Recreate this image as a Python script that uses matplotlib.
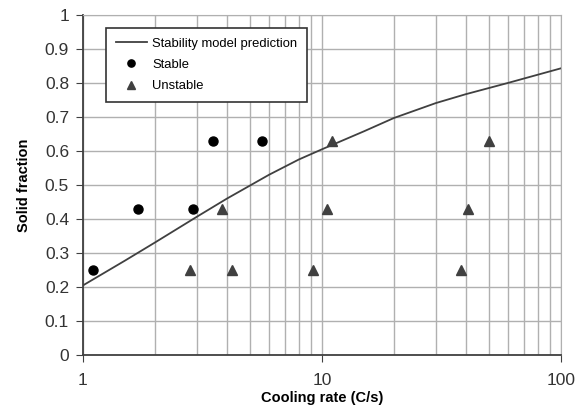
import matplotlib
matplotlib.use("Agg")
import matplotlib.pyplot as plt
from matplotlib.ticker import FixedLocator, NullFormatter, LogLocator

plt.rcParams['font.family'] = ['Liberation Sans', 'DejaVu Sans']

# model curve
model_rate = [1, 1.5, 2, 3, 4, 6, 8, 10, 15, 20, 30, 40, 60, 100]
model_fs = [0.205, 0.278, 0.331, 0.407, 0.46, 0.53, 0.575, 0.605, 0.658, 0.697, 0.741, 0.767, 0.80, 0.843]

# experiments
stable_rate = [1.1, 1.7, 2.9, 3.5, 5.6]
stable_fs = [0.25, 0.43, 0.43, 0.63, 0.63]
unstable_rate = [2.8, 3.8, 4.2, 9.2, 10.5, 11, 38, 41, 50]
unstable_fs = [0.25, 0.43, 0.25, 0.25, 0.43, 0.63, 0.25, 0.43, 0.63]

fig = plt.figure(figsize=(5.76, 4.13), dpi=100)
ax = fig.add_axes([0.144, 0.140, 0.830, 0.824])

ax.plot(model_rate, model_fs, '-', color='#404040', lw=1.3, label='Stability model prediction', zorder=3)
ax.plot(stable_rate, stable_fs, 'o', color='black', ms=6.5, ls='none', label='Stable', zorder=4)
ax.plot(unstable_rate, unstable_fs, '^', color='#404040', ms=7, ls='none', label='Unstable', zorder=4)

ax.set_xscale('log')
ax.set_xlim(1, 100)
ax.set_ylim(0, 1)
ax.xaxis.set_major_locator(FixedLocator([1, 10, 100]))
ax.xaxis.set_minor_locator(LogLocator(base=10, subs=range(2, 10)))
ax.xaxis.set_minor_formatter(NullFormatter())
ax.set_xticklabels(['1', '10', '100'])
ax.set_yticks([i / 10 for i in range(11)])
ax.set_yticklabels(['0', '0.1', '0.2', '0.3', '0.4', '0.5', '0.6', '0.7', '0.8', '0.9', '1'])

ax.grid(True, which='major', color='#b0b0b0', lw=1.0)
ax.grid(True, which='minor', axis='x', color='#b0b0b0', lw=1.0)
ax.set_axisbelow(True)

for s in ['top', 'right']:
    ax.spines[s].set_color('#b0b0b0')
for s in ['left', 'bottom']:
    ax.spines[s].set_color('#404040')
    ax.spines[s].set_linewidth(1.3)

ax.tick_params(axis='both', which='major', direction='out', length=5, color='#404040',
               labelsize=12.5, labelcolor='#333333', pad=5)
ax.tick_params(axis='x', which='minor', length=0)
ax.tick_params(axis='x', which='major', pad=8)

ax.set_xlabel('Cooling rate (C/s)', fontsize=10.5, fontweight='bold', labelpad=2)
ax.set_ylabel('Solid fraction', fontsize=10.5, fontweight='bold', labelpad=10)

leg = ax.legend(loc='upper left', bbox_to_anchor=(0.048, 0.962), borderaxespad=0, fontsize=9.4,
                fancybox=False, framealpha=1, edgecolor='#333333', markerscale=0.8,
                handlelength=2.4, handletextpad=0.4, borderpad=0.75, labelspacing=0.7)
leg.get_frame().set_linewidth(1.2)

fig.savefig('out.png', dpi=100)
